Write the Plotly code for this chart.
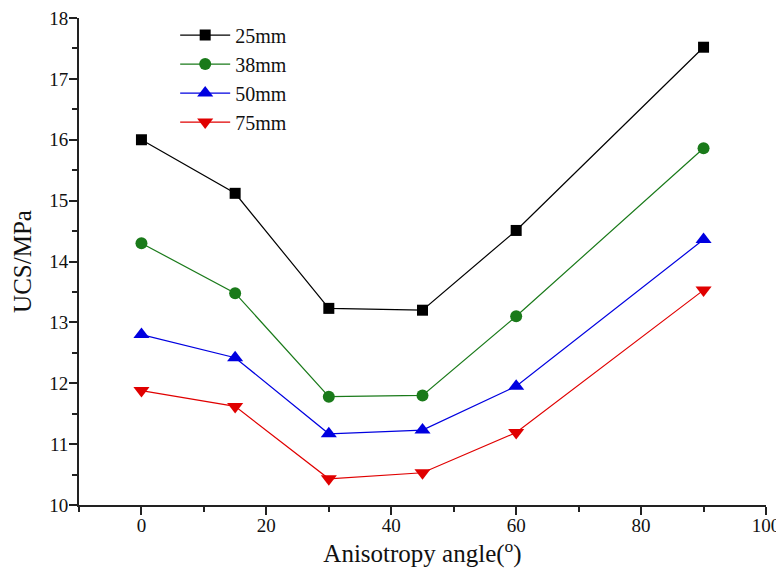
import plotly.graph_objects as go

angles = [0, 15, 30, 45, 60, 90]
s25 = [16.0, 15.12, 13.23, 13.2, 14.51, 17.52]
s38 = [14.3, 13.48, 11.78, 11.8, 13.1, 15.86]
s50 = [12.8, 12.42, 11.17, 11.23, 11.95, 14.36]
s75 = [11.88, 11.62, 10.43, 10.53, 11.19, 13.53]
names = ["25mm", "38mm", "50mm", "75mm"]
colors = ["#000000", "#1a7a1a", "#0000e0", "#e00000"]
symbols = ["square", "circle", "triangle-up", "triangle-down"]
msizes = [11, 12, 14, 14]

fig = go.Figure()
for name, ys, c, sym, ms in zip(names, [s25, s38, s50, s75], colors, symbols, msizes):
    fig.add_trace(go.Scatter(
        x=angles, y=ys, name=name, mode="lines+markers",
        line=dict(color=c, width=1.2),
        marker=dict(symbol=sym, size=ms, color=c),
    ))

font_family = "Liberation Serif"
axis_common = dict(
    showline=True, linecolor="#222", linewidth=2, ticks="outside",
    ticklen=8, tickwidth=2, tickcolor="#222", showgrid=False, zeroline=False,
    automargin=False, ticklabeloverflow="allow",
    tickfont=dict(family=font_family, size=19, color="#111"),
)
fig.update_xaxes(range=[-10, 100], dtick=20, tick0=0, ticklabelstandoff=-6,
                 minor=dict(dtick=10, ticks="outside", ticklen=5, tickwidth=1.5, tickcolor="#222"),
                 title=dict(text="Anisotropy angle(<sup>o</sup>)", font=dict(family=font_family, size=25, color="#111"), standoff=8),
                 **axis_common)
fig.update_yaxes(range=[10, 18], dtick=1, ticklabelstandoff=-3,
                 minor=dict(dtick=0.5, ticks="outside", ticklen=5, tickwidth=1.5, tickcolor="#222"),
                 title=dict(text="UCS/MPa", font=dict(family=font_family, size=25, color="#111"), standoff=10),
                 **axis_common)
fig.update_layout(
    width=776, height=564,
    margin=dict(l=71, r=18, t=8, b=67),
    plot_bgcolor="white", paper_bgcolor="white",
    legend=dict(x=0.14, y=1.005, xanchor="left", yanchor="top",
                font=dict(family=font_family, size=20, color="#111"),
                bgcolor="rgba(0,0,0,0)", itemwidth=50, tracegroupgap=0),
)
fig.write_html("out.html")
